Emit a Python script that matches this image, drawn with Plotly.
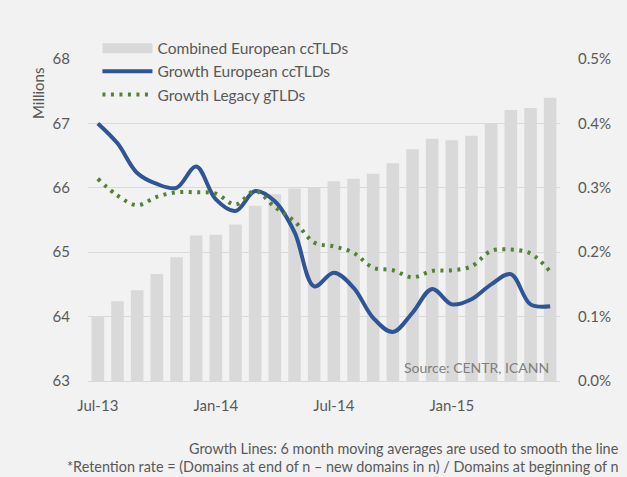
import plotly.graph_objects as go

months = ["Jul-13", "Aug-13", "Sep-13", "Oct-13", "Nov-13", "Dec-13",
          "Jan-14", "Feb-14", "Mar-14", "Apr-14", "May-14", "Jun-14",
          "Jul-14", "Aug-14", "Sep-14", "Oct-14", "Nov-14", "Dec-14",
          "Jan-15", "Feb-15", "Mar-15", "Apr-15", "May-15", "Jun-15"]
tick_labels = ["Jul-13", "Jan-14", "Jul-14", "Jan-15"]

combined_millions = [64.01, 64.24, 64.41, 64.66, 64.92, 65.26,
                     65.27, 65.43, 65.72, 65.90, 65.99, 66.00,
                     66.10, 66.14, 66.22, 66.38, 66.60, 66.76,
                     66.74, 66.81, 67.00, 67.21, 67.24, 67.40]

growth_european = [0.00400, 0.00369, 0.00323, 0.00306, 0.00300, 0.00333,
                   0.00282, 0.00264, 0.00295, 0.00279, 0.00231, 0.00147,
                   0.00168, 0.00145, 0.00098, 0.00076, 0.00106, 0.00143,
                   0.00119, 0.00127, 0.00150, 0.00166, 0.00119, 0.00116]

growth_legacy = [0.00314, 0.00288, 0.00273, 0.00286, 0.00293, 0.00293,
                 0.00291, 0.00274, 0.00295, 0.00270, 0.00248, 0.00215,
                 0.00209, 0.00199, 0.00176, 0.00172, 0.00161, 0.00171,
                 0.00172, 0.00178, 0.00202, 0.00204, 0.00198, 0.00170]

TEXT = "#595959"
FONT = "Lato"

fig = go.Figure()

fig.add_trace(go.Bar(
    x=months, y=combined_millions, name="Combined European ccTLDs",
    marker=dict(color="#d9d9d9", line=dict(width=0)),
    width=0.64, showlegend=False, yaxis="y"))

# legend swatch for the bars (wide grey rectangle like the original)
fig.add_trace(go.Scatter(
    x=[None], y=[None], mode="lines", name="Combined European ccTLDs",
    line=dict(color="#d9d9d9", width=10), yaxis="y"))

fig.add_trace(go.Scatter(
    x=months, y=growth_european, name="Growth European ccTLDs",
    mode="lines", line=dict(color="#2f5597", width=4, shape="spline", smoothing=1.0),
    yaxis="y2"))

fig.add_trace(go.Scatter(
    x=months, y=growth_legacy, name="Growth Legacy gTLDs",
    mode="lines", line=dict(color="#548235", width=4, shape="spline", smoothing=1.0,
                            dash="3px,5.5px"),
    yaxis="y2"))

fig.update_layout(
    width=627, height=477,
    margin=dict(l=88, r=67, t=59, b=96, pad=0),
    paper_bgcolor="#f2f2f2", plot_bgcolor="#f2f2f2",
    font=dict(family=FONT, size=15, color=TEXT),
    xaxis=dict(type="category", range=[-0.5, 23.5], tickmode="array",
               tickvals=tick_labels, ticktext=tick_labels,
               showgrid=False, showline=True, linecolor="#d9d9d9", linewidth=1,
               ticks="", ticklabelstandoff=11, tickfont=dict(size=15, color=TEXT)),
    yaxis=dict(range=[63, 68], dtick=1, showgrid=True, gridcolor="#d9d9d9",
               gridwidth=1, zeroline=False, ticks="", ticklabelstandoff=17,
               tickfont=dict(size=15, color=TEXT)),
    yaxis2=dict(range=[0, 0.005], dtick=0.001, tickformat=".1%", overlaying="y",
                side="right", showgrid=False, zeroline=False, ticks="",
                ticklabelstandoff=17, tickfont=dict(size=15, color=TEXT)),
    legend=dict(x=0.02, y=1.085, xanchor="left", yanchor="top",
                bgcolor="rgba(0,0,0,0)", itemwidth=50, traceorder="normal",
                font=dict(size=15.5, color=TEXT), tracegroupgap=0),
    showlegend=True,
)

fig.add_annotation(text="Millions", textangle=-90, xref="paper", yref="paper",
                   x=(38 - 88) / 472, y=(381 - 94) / 322, xanchor="center",
                   yanchor="middle", showarrow=False, font=dict(size=15, color=TEXT))
fig.add_annotation(text="Source: CENTR, ICANN", xref="paper", yref="paper",
                   x=(551 - 88) / 472, y=(381 - 367) / 322, xanchor="right",
                   yanchor="middle", showarrow=False, font=dict(size=14, color="#7f7f7f"))
fig.add_annotation(text="Growth Lines: 6 month moving averages are used to smooth the line",
                   xref="paper", yref="paper", x=(621 - 88) / 472, y=(381 - 448) / 322,
                   xanchor="right", yanchor="middle", showarrow=False,
                   font=dict(size=14.4, color=TEXT))
fig.add_annotation(text="*Retention rate = (Domains at end of n \u2013 new domains in n) / Domains at beginning of n",
                   xref="paper", yref="paper", x=(621 - 88) / 472, y=(381 - 466) / 322,
                   xanchor="right", yanchor="middle", showarrow=False,
                   font=dict(size=14.4, color=TEXT))

fig.write_html("out.html", config={"displayModeBar": False},
               post_script="document.body.style.margin='0';")
